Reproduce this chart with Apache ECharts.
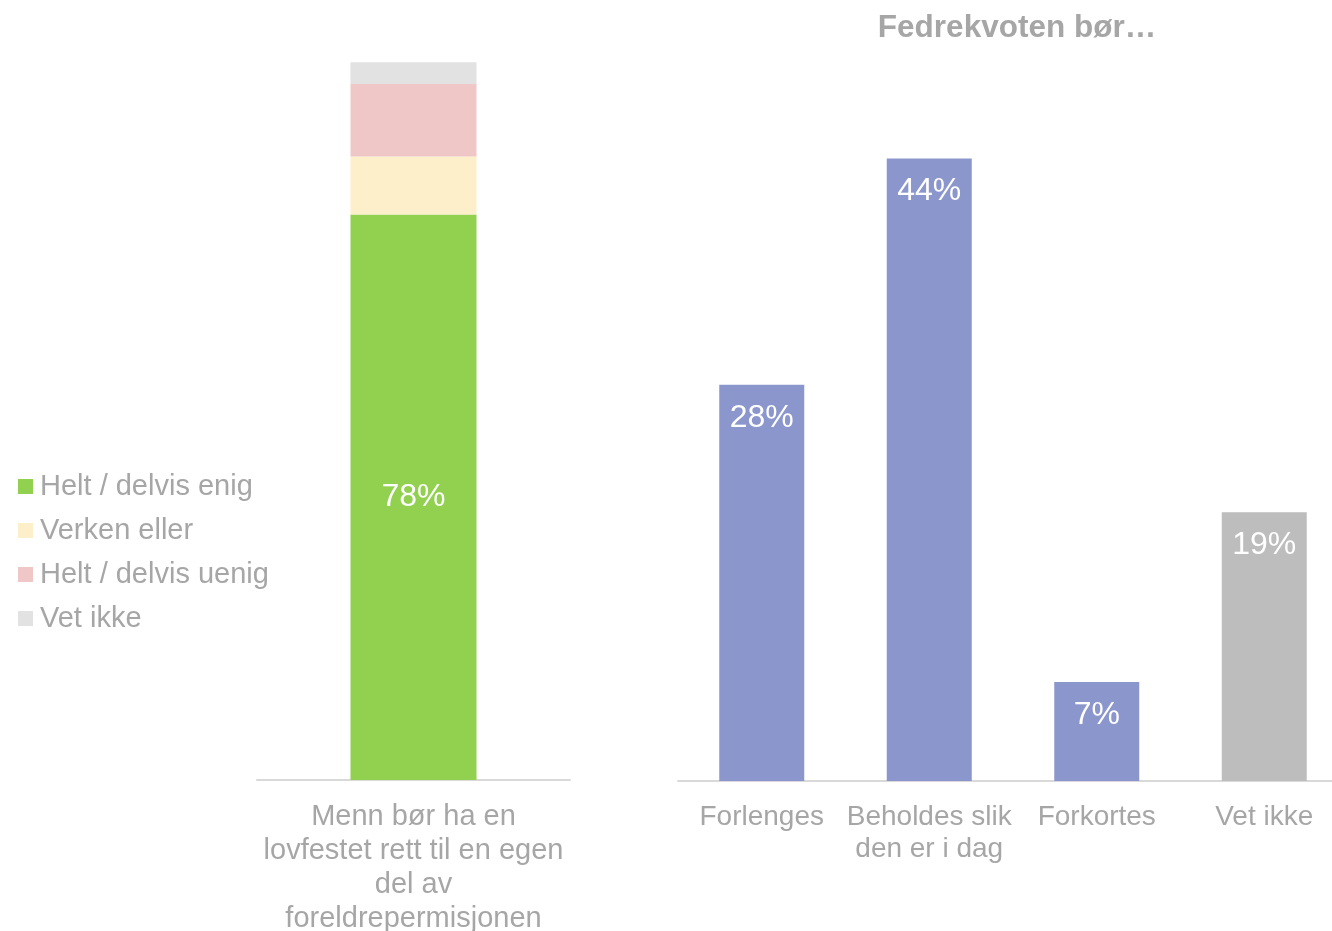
<!DOCTYPE html>
<html>
<head>
<meta charset="utf-8">
<script src="https://cdn.jsdelivr.net/npm/echarts@6/dist/echarts.min.js"></script>
<style>html,body{margin:0;padding:0;background:#fff}#c{width:1332px;height:931px}</style>
</head>
<body>
<div id="c"></div>
<script>
// Left chart (stacked)
const leftCategories = ['Menn bør ha en\nlovfestet rett til en egen\ndel av\nforeldrepermisjonen'];
const leftSeriesNames = ['Helt / delvis enig', 'Verken eller', 'Helt / delvis uenig', 'Vet ikke'];
const leftEnig = [78];
const leftVerken = [8];
const leftUenig = [10];
const leftVetIkke = [3];
const leftColors = ['#92d050', '#fdefc9', '#f0c7c7', '#e2e2e2'];

// Right chart
const rightTitle = 'Fedrekvoten bør…';
const rightCategories = ['Forlenges', 'Beholdes slik\nden er i dag', 'Forkortes', 'Vet ikke'];
const rightValues = [28, 44, 7, 19];
const rightColors = ['#8b96cd', '#8b96cd', '#8b96cd', '#bdbdbd'];

const FONT = "'Liberation Sans', Arial, sans-serif";
const TXT = '#a6a6a6';

const chart = echarts.init(document.getElementById('c'), null, {renderer: 'canvas'});
const leftData = [leftEnig, leftVerken, leftUenig, leftVetIkke];

const option = {
  animation: false,
  textStyle: {fontFamily: FONT},
  title: {
    text: rightTitle,
    left: 1012, top: 7, textAlign: 'center',
    textStyle: {fontFamily: FONT, fontSize: 31.5, fontWeight: 'bold', color: TXT}
  },
  legend: {
    data: leftSeriesNames,
    orient: 'vertical',
    left: 13, top: 467,
    itemWidth: 15, itemHeight: 15, itemGap: 15,
    icon: 'rect',
    textStyle: {fontFamily: FONT, fontSize: 29, color: TXT, padding: [0, 0, 0, 2]}
  },
  grid: [
    {left: 257, width: 313, top: 55, bottom: 151, outerBoundsMode: 'none', containLabel: false},
    {left: 678, width: 670, top: 73.5, bottom: 150, outerBoundsMode: 'none', containLabel: false}
  ],
  xAxis: [
    {
      gridIndex: 0, type: 'category', data: leftCategories,
      axisLine: {lineStyle: {color: '#d9d9d9', width: 2}},
      axisTick: {show: false},
      axisLabel: {fontFamily: FONT, fontSize: 29, color: TXT, lineHeight: 34, margin: 19.5, align: 'center'}
    },
    {
      gridIndex: 1, type: 'category', data: rightCategories,
      axisLine: {lineStyle: {color: '#d9d9d9', width: 2}},
      axisTick: {show: false},
      axisLabel: {fontFamily: FONT, fontSize: 28, color: TXT, lineHeight: 32, margin: 20, interval: 0}
    }
  ],
  yAxis: [
    {gridIndex: 0, type: 'value', min: 0, max: 100, show: false, splitLine: {show: false}},
    {gridIndex: 1, type: 'value', min: 0, max: 50, show: false, splitLine: {show: false}}
  ],
  series: [
    ...leftSeriesNames.map((name, i) => ({
      name: name,
      type: 'bar',
      stack: 'left',
      xAxisIndex: 0, yAxisIndex: 0,
      data: leftData[i],
      barWidth: 126,
      itemStyle: {color: leftColors[i]},
      label: i === 0 ? {
        show: true, position: 'inside', formatter: '{c}%',
        fontFamily: FONT, fontSize: 32, color: '#ffffff'
      } : {show: false}
    })),
    {
      name: 'Fedrekvoten',
      type: 'bar',
      xAxisIndex: 1, yAxisIndex: 1,
      barWidth: 85,
      data: rightValues.map((v, i) => ({value: v, itemStyle: {color: rightColors[i]}})),
      label: {
        show: true, position: 'insideTop', distance: 17, formatter: '{c}%',
        fontFamily: FONT, fontSize: 32, color: '#ffffff'
      }
    }
  ]
};
chart.setOption(option);
</script>
</body>
</html>
